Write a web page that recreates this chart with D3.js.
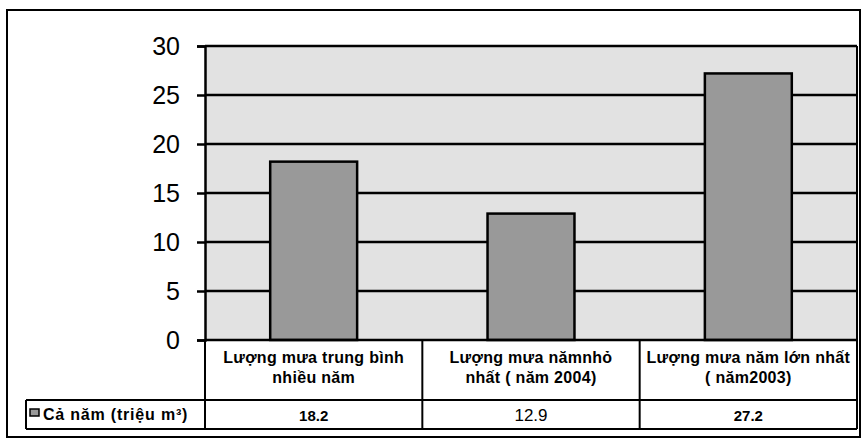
<!DOCTYPE html>
<html>
<head>
<meta charset="utf-8">
<script src="https://cdn.jsdelivr.net/npm/d3@7"></script>
<style>
  html, body { margin: 0; padding: 0; background: #fff; }
  svg { display: block; }
</style>
</head>
<body>
<svg id="chart" width="862" height="441"></svg>
<script>
// Rainfall volume (million m³)
const categories = [
  ["Lượng mưa trung bình", "nhiều năm"],
  ["Lượng mưa nămnhỏ", "nhất ( năm 2004)"],
  ["Lượng mưa năm lớn nhất", "( năm2003)"]
];
const seriesName = "Cả năm (triệu m³)";
const values = [18.2, 12.9, 27.2];
const valueLabels = ["18.2", "12.9", "27.2"];
const yTicks = [0, 5, 10, 15, 20, 25, 30];

const svg = d3.select("#chart");
const plot = { left: 205, right: 857, top: 46, bottom: 340 };
const table = { headerBottom: 400, bottom: 429, legendLeft: 26 };

const keys = categories.map((d, i) => i);
const x = d3.scaleBand()
  .domain(keys)
  .range([plot.left, plot.right])
  .paddingInner(0.6)
  .paddingOuter(0.3);
const step = x.step();
const colLeft = i => plot.left + i * step;

const y = d3.scaleLinear().domain([0, 30]).range([plot.bottom, plot.top]);

// Outer chart frame
svg.append("rect")
  .attr("x", 7).attr("y", 10).attr("width", 853).attr("height", 427)
  .attr("fill", "#fff").attr("stroke", "#000").attr("stroke-width", 2);

// Plot area background
svg.append("rect")
  .attr("x", plot.left).attr("y", plot.top)
  .attr("width", plot.right - plot.left).attr("height", plot.bottom - plot.top)
  .attr("fill", "#e2e2e2");

// Gridlines
svg.append("g")
  .selectAll("line").data(yTicks.filter(t => t > 0)).join("line")
  .attr("x1", plot.left).attr("x2", plot.right)
  .attr("y1", d => y(d)).attr("y2", d => y(d))
  .attr("stroke", "#000").attr("stroke-width", 2.5);

// Right edge of plot
svg.append("line")
  .attr("x1", plot.right).attr("x2", plot.right)
  .attr("y1", plot.top).attr("y2", plot.bottom)
  .attr("stroke", "#000").attr("stroke-width", 2);

// Bars
svg.append("g")
  .selectAll("rect").data(values).join("rect")
  .attr("x", (d, i) => x(i))
  .attr("width", x.bandwidth())
  .attr("y", d => y(d))
  .attr("height", d => y(0) - y(d))
  .attr("fill", "#999999")
  .attr("stroke", "#000").attr("stroke-width", 2.5);

// Y axis
const yAxis = svg.append("g")
  .attr("transform", `translate(${plot.left},0)`)
  .call(d3.axisLeft(y).tickValues(yTicks).tickSize(8).tickPadding(17).tickFormat(d3.format("d")));
yAxis.select(".domain").attr("stroke", "#000").attr("stroke-width", 2.5);
yAxis.selectAll(".tick line").attr("stroke", "#000").attr("stroke-width", 2.5);
yAxis.selectAll(".tick text")
  .attr("fill", "#000")
  .style("font-family", "'Liberation Sans', Arial, sans-serif")
  .style("font-size", "25px");

// Data table grid
const tbl = svg.append("g").attr("stroke", "#000").attr("stroke-width", 2).attr("fill", "none");
tbl.append("line").attr("x1", plot.left).attr("x2", plot.right)
  .attr("y1", plot.bottom).attr("y2", plot.bottom).attr("stroke-width", 2.5);
tbl.append("line").attr("x1", table.legendLeft).attr("x2", plot.right)
  .attr("y1", table.headerBottom).attr("y2", table.headerBottom);
tbl.append("line").attr("x1", table.legendLeft).attr("x2", plot.right)
  .attr("y1", table.bottom).attr("y2", table.bottom);
tbl.append("line").attr("x1", table.legendLeft).attr("x2", table.legendLeft)
  .attr("y1", table.headerBottom).attr("y2", table.bottom);
tbl.selectAll("line.col").data(d3.range(keys.length + 1)).join("line")
  .attr("class", "col")
  .attr("x1", i => colLeft(i)).attr("x2", i => colLeft(i))
  .attr("y1", plot.bottom).attr("y2", table.bottom);

// Category headers
const font = "'Liberation Sans', Arial, sans-serif";
const hdr = svg.append("g")
  .selectAll("text").data(categories).join("text")
  .attr("text-anchor", "middle")
  .attr("fill", "#000")
  .style("font-family", font)
  .style("font-size", "16px")
  .style("font-weight", "bold")
  .style("letter-spacing", "0.3px");
hdr.each(function (lines, i) {
  const cx = colLeft(i) + step / 2;
  d3.select(this).selectAll("tspan").data(lines).join("tspan")
    .attr("x", cx)
    .attr("y", (d, j) => 363 + j * 20)
    .text(d => d);
});

// Legend key and series name
svg.append("rect")
  .attr("x", 30).attr("y", 409).attr("width", 9).attr("height", 7)
  .attr("fill", "#999999").attr("stroke", "#000").attr("stroke-width", 1.5);
svg.append("text")
  .attr("x", 43).attr("y", 420)
  .attr("fill", "#000")
  .style("font-family", font)
  .style("font-size", "16px")
  .style("font-weight", "bold")
  .style("letter-spacing", "0.8px")
  .text(seriesName);

// Values row
svg.append("g")
  .selectAll("text").data(valueLabels).join("text")
  .attr("x", (d, i) => colLeft(i) + step / 2)
  .attr("y", 421)
  .attr("text-anchor", "middle")
  .attr("fill", "#000")
  .style("font-family", font)
  .style("font-size", (d, i) => i === 1 ? "17px" : "15px")
  .style("font-weight", (d, i) => i === 1 ? "normal" : "bold")
  .text(d => d);
</script>
</body>
</html>
